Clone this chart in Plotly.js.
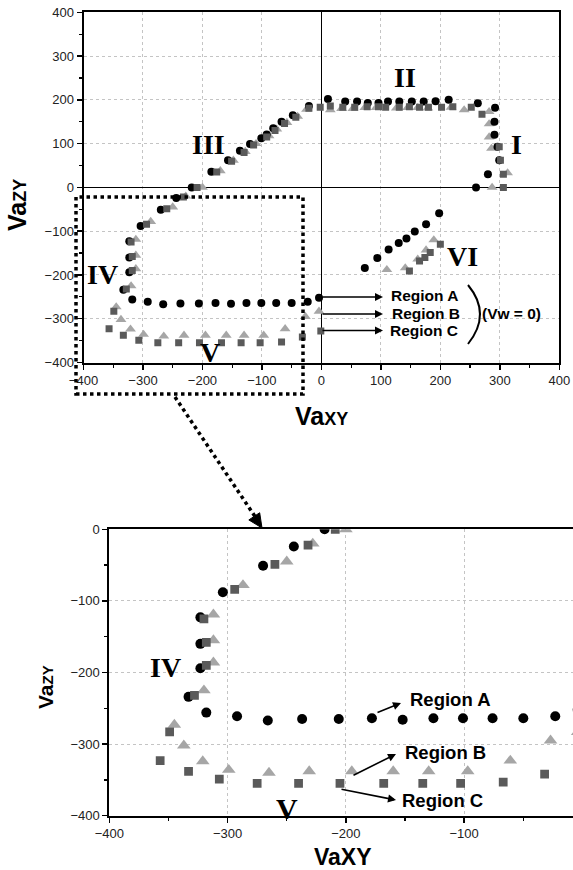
<!DOCTYPE html>
<html>
<head>
<meta charset="utf-8">
<script src="https://cdn.plot.ly/plotly-3.0.1.min.js"></script>
<style>html,body{margin:0;padding:0;background:#fff;}#chart{width:573px;height:870px;}</style>
</head>
<body>
<div id="chart"></div>
<script>
// ---- Data (VaXY, VaZY) ----
// Region A (circles)
const regionA_x = [11,40,60,78,96,112,131,152,172,192,214,263,292,291,291,296,299,280,260,
  -218,-185,-157,-137,-120,-101,-92,-81,-67,-48,-21,
  -244,-270,-304,-323,-323,-323,-333,-318,
  -292,-266,-237,-206,-178,-152,-126,-101,-76,-50,-23,-4,
  73,94,113,130,143,157,176,198];
const regionA_y = [202,196,196,193,193,196,196,196,196,197,200,192,182,150,120,93,62,30,0,
  0,36,62,84,99,112,121,135,150,165,186,
  -24,-51,-88,-123,-160,-194,-234,-256,
  -261,-267,-265,-265,-264,-266,-264,-264,-264,-264,-261,-252,
  -184,-161,-142,-127,-117,-101,-84,-59];
// Region B (triangles)
const regionB_x = [-200,-170,-148,-128,-110,-88,-75,-58,-40,-25,15,34,53,73,92,126,145,162,179,218,240,282,
  282,282,286,313,287,
  -228,-250,-287,-312,-312,-312,-320,
  -345,-337,-321,-299,-265,-231,-195,-160,-130,-97,-61,-27,-4,
  110,141,162,176,189];
const regionB_y = [0,38,62,82,100,118,133,148,162,178,177,180,180,182,182,181,182,182,181,183,177,173,
  145,115,89,33,0,
  -20,-45,-78,-119,-155,-186,-225,
  -273,-302,-324,-336,-340,-338,-338,-338,-338,-338,-323,-295,-283,
  -188,-184,-164,-143,-120];
// Region C (squares)
const regionC_x = [-209,-176,-151,-130,-114,-92,-78,-62,-43,-21,-2,15,36,56,77,96,108,131,148,165,180,202,221,252,270,
  299,301,306,306,
  -232,-260,-294,-320,-318,-318,-328,
  -349,-357,-333,-307,-275,-240,-205,-168,-135,-103,-67,-32,-1,
  148,165,174,183,200];
const regionC_y = [0,35,60,80,97,115,130,146,160,181,183,186,183,183,184,184,183,183,184,183,183,183,184,183,167,
  93,62,30,0,
  -22,-49,-84,-125,-158,-190,-232,
  -283,-323,-338,-349,-355,-355,-355,-355,-355,-355,-353,-342,-328,
  -191,-168,-160,-149,-130];

const seriesNames = ['Region A','Region B','Region C'];
const regionNumerals = ['I','II','III','IV','V','VI'];
const tickVals = [-400,-300,-200,-100,0,100,200,300,400];

// ---- helpers (pixel -> paper) ----
const W = 573, H = 870;
const PX = p => p / W;
const PY = p => 1 - p / H;

const colA = '#000000', colB = '#a6a6a6', colC = '#5a5a5a';

function trio(xa, ya, big) {
  const s = big ? 1.25 : 1;
  return [
    {x: regionB_x, y: regionB_y, name: seriesNames[1], mode: 'markers', type: 'scatter', xaxis: xa, yaxis: ya,
     marker: {symbol: 'triangle-up', size: 9.5 * s, color: colB}},
    {x: regionA_x, y: regionA_y, name: seriesNames[0], mode: 'markers', type: 'scatter', xaxis: xa, yaxis: ya,
     marker: {symbol: 'circle', size: 8 * s, color: colA}},
    {x: regionC_x, y: regionC_y, name: seriesNames[2], mode: 'markers', type: 'scatter', xaxis: xa, yaxis: ya,
     marker: {symbol: 'square', size: 7 * s, color: colC}}
  ];
}

const data = trio('x', 'y', false).concat(trio('x2', 'y2', true));

const tickFont = {family: 'Liberation Sans, Arial, sans-serif', size: 13, color: '#222'};
function axisBase(extra) {
  return Object.assign({
    showline: true, linecolor: '#000', linewidth: 2,
    ticks: 'outside', ticklen: 5, tickwidth: 1.5, tickcolor: '#000',
    showgrid: true, gridcolor: '#c4c4c4', griddash: 'dot', gridwidth: 1,
    tickfont: tickFont, tickvals: tickVals,
    minor: {dtick: 50, ticks: 'outside', ticklen: 3, tickwidth: 1.2, tickcolor: '#000', showgrid: false},
    fixedrange: true
  }, extra);
}

const layout = {
  width: W, height: H,
  margin: {l: 0, r: 0, t: 0, b: 0},
  paper_bgcolor: '#fff', plot_bgcolor: 'rgba(0,0,0,0)',
  showlegend: false,
  xaxis: axisBase({domain: [PX(83.5), PX(559.3)], range: [-400, 400], anchor: 'y', mirror: true,
    zeroline: true, zerolinecolor: '#000', zerolinewidth: 1.2}),
  yaxis: axisBase({domain: [PY(362.5), PY(12.3)], range: [-400, 400], anchor: 'x', mirror: true,
    zeroline: true, zerolinecolor: '#000', zerolinewidth: 1.2}),
  xaxis2: axisBase({domain: [PX(109.3), 1], range: [-400, -8], anchor: 'y2', mirror: true, zeroline: false,
    tickvals: [-400,-300,-200,-100]}),
  yaxis2: axisBase({domain: [PY(815.7), PY(529.3)], range: [-400, 0], anchor: 'x2', mirror: false, zeroline: false,
    tickvals: [-400,-300,-200,-100,0]}),
  shapes: [],
  annotations: []
};

// dotted selection rectangle
layout.shapes.push({type: 'rect', xref: 'paper', yref: 'paper',
  x0: PX(76), x1: PX(303), y0: PY(394), y1: PY(197),
  line: {color: '#000', width: 3.5, dash: 'dot'}});
// dotted connector
layout.shapes.push({type: 'line', xref: 'paper', yref: 'paper',
  x0: PX(175), y0: PY(397), x1: PX(256), y1: PY(518),
  line: {color: '#000', width: 3.5, dash: 'dot'}});
// arrow head of connector
(function () {
  const tip = [262, 528], ux = 0.553, uy = 0.833, L = 14, hw = 6.5;
  const bx = tip[0] - L * ux, by = tip[1] - L * uy;
  const p1 = [bx - hw * uy, by + hw * ux], p2 = [bx + hw * uy, by - hw * ux];
  layout.shapes.push({type: 'path', xref: 'paper', yref: 'paper',
    path: `M ${PX(tip[0])} ${PY(tip[1])} L ${PX(p1[0])} ${PY(p1[1])} L ${PX(p2[0])} ${PY(p2[1])} Z`,
    fillcolor: '#000', line: {color: '#000', width: 1}});
})();
// big ")"
layout.shapes.push({type: 'path', xref: 'paper', yref: 'paper',
  path: `M ${PX(468)} ${PY(285)} Q ${PX(492)} ${PY(314)} ${PX(468)} ${PY(344)}`,
  line: {color: '#000', width: 2}});

function txt(x, y, text, size, family, extra) {
  return Object.assign({xref: 'paper', yref: 'paper', x: PX(x), y: PY(y), text: text, showarrow: false,
    xanchor: 'center', yanchor: 'middle',
    font: {family: family || 'Liberation Sans, Arial, sans-serif', size: size, color: '#000'}}, extra || {});
}
function arrow(tx, ty, hx, hy) {
  return {xref: 'paper', yref: 'paper', x: PX(hx), y: PY(hy), ax: tx - hx, ay: ty - hy,
    axref: 'pixel', ayref: 'pixel', text: '', showarrow: true,
    arrowhead: 2, arrowsize: 1, arrowwidth: 1.6, arrowcolor: '#000'};
}
const serif = 'Liberation Serif, Times New Roman, serif';

// Roman numerals, top plot
layout.annotations.push(txt(516, 145, '<b>' + regionNumerals[0] + '</b>', 28, serif));
layout.annotations.push(txt(405, 78, '<b>' + regionNumerals[1] + '</b>', 28, serif));
layout.annotations.push(txt(208, 145, '<b>' + regionNumerals[2] + '</b>', 28, serif));
layout.annotations.push(txt(102, 274, '<b>' + regionNumerals[3] + '</b>', 28, serif));
layout.annotations.push(txt(210, 352, '<b>' + regionNumerals[4] + '</b>', 28, serif));
layout.annotations.push(txt(462, 257, '<b>' + regionNumerals[5] + '</b>', 28, serif));
// Roman numerals, bottom plot
layout.annotations.push(txt(165, 667, '<b>' + regionNumerals[3] + '</b>', 28, serif));
layout.annotations.push(txt(287, 808, '<b>' + regionNumerals[4] + '</b>', 30, serif));

// Region labels, top plot
layout.annotations.push(txt(424, 296, '<b>' + seriesNames[0] + '</b>', 15.5));
layout.annotations.push(txt(426, 313, '<b>' + seriesNames[1] + '</b>', 15.5));
layout.annotations.push(txt(424, 330.5, '<b>' + seriesNames[2] + '</b>', 15.5));
layout.annotations.push(txt(511, 313, '<b>(Vw = 0)</b>', 15.5));
layout.annotations.push(arrow(321, 297, 383, 297));
layout.annotations.push(arrow(321, 314, 383, 314));
layout.annotations.push(arrow(321, 330.5, 383, 330.5));

// Region labels, bottom plot
layout.annotations.push(txt(450, 699, '<b>' + seriesNames[0] + '</b>', 18.5));
layout.annotations.push(txt(445, 752, '<b>' + seriesNames[1] + '</b>', 18.5));
layout.annotations.push(txt(443, 800, '<b>' + seriesNames[2] + '</b>', 18.5));
layout.annotations.push(arrow(376, 713, 401, 703));
layout.annotations.push(arrow(352, 776, 396, 754));
layout.annotations.push(arrow(340, 789, 396, 800));

// Axis titles
layout.annotations.push(txt(321, 416, "<b>Va<span style='font-size:18px'>XY</span></b>", 25));
layout.annotations.push(txt(17, 205, "<b>Va<span style='font-size:18px'>ZY</span></b>", 25, null, {textangle: -90}));
layout.annotations.push(txt(343, 857, '<b>VaXY</b>', 23));
layout.annotations.push(txt(45, 687, "<b>Va<span style='font-size:15px'>ZY</span></b>", 21, null, {textangle: -90}));

Plotly.newPlot('chart', data, layout, {staticPlot: true, displayModeBar: false});
</script>
</body>
</html>
